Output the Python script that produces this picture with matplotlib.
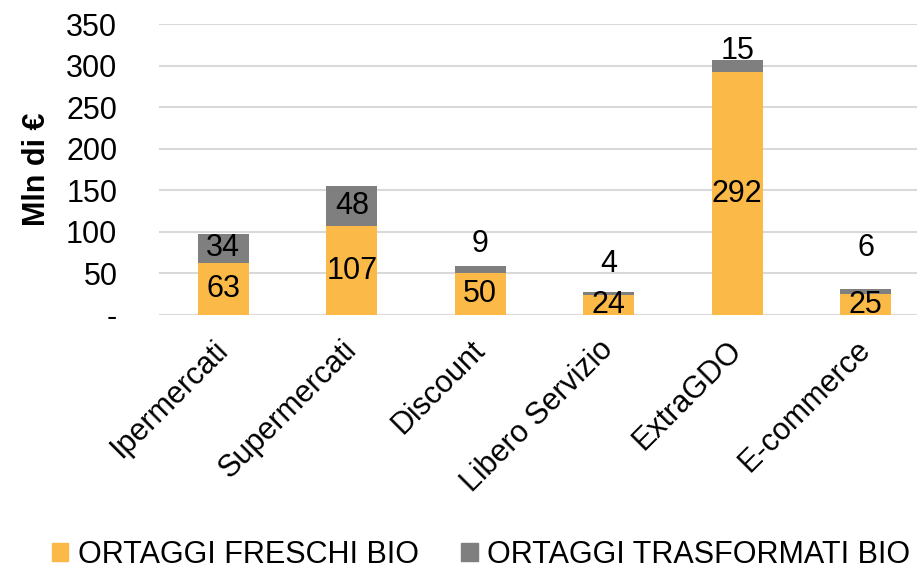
import matplotlib
matplotlib.use("Agg")
import matplotlib.pyplot as plt
from matplotlib.patches import Patch

categories = ["Ipermercati", "Supermercati", "Discount", "Libero Servizio", "ExtraGDO", "E-commerce"]
freschi = [63, 107, 50, 24, 292, 25]
trasformati = [34, 48, 9, 4, 15, 6]
series_names = ["ORTAGGI FRESCHI BIO", "ORTAGGI TRASFORMATI BIO"]
yticks = [0, 50, 100, 150, 200, 250, 300, 350]
ytick_labels = ["-", "50", "100", "150", "200", "250", "300", "350"]

# label offsets (points) for gray labels placed above small segments
gray_offsets = [None, None, 16, 20, 6, 30]

c_orange = "#FBBA48"
c_gray = "#7F7F7F"
FS = 22
plt.rcParams['font.family'] = ['Liberation Sans', 'DejaVu Sans']

fig = plt.figure(figsize=(9.17, 5.77), dpi=100)
# plot area extends slightly beyond the right edge like the reference
ax = fig.add_axes([159/917, 1 - 315/577, (930 - 159)/917, (315 - 24)/577])
x = list(range(len(categories)))
w = 0.4
ax.bar(x, freschi, width=w, color=c_orange, zorder=3)
ax.bar(x, trasformati, width=w, bottom=freschi, color=c_gray, zorder=3)

ax.set_xlim(-0.5, len(categories) - 0.5)
ax.set_ylim(0, 350)
ax.set_yticks(yticks)
ax.set_yticklabels(ytick_labels, fontsize=FS)
ax.yaxis.grid(True, color="#D9D9D9", linewidth=1.5, zorder=0)
ax.set_axisbelow(True)
for s in ax.spines.values():
    s.set_visible(False)
ax.tick_params(axis='y', length=0, pad=30)
ax.tick_params(axis='x', length=0, pad=22)
ax.set_xticks(x)
ax.set_xticklabels(categories, rotation=45, ha='right', va='center', rotation_mode='anchor', fontsize=FS)
ax.set_ylabel("Mln di €", fontsize=FS, fontweight='bold', labelpad=10)

for i, (f, t) in enumerate(zip(freschi, trasformati)):
    ax.text(i, f / 2, str(f), ha='center', va='center', fontsize=FS, zorder=4)
    off = gray_offsets[i]
    if off is None:
        ax.text(i, f + t / 2, str(t), ha='center', va='center', fontsize=FS, zorder=4)
    else:
        ax.annotate(str(t), (i, f + t), xytext=(0, off), textcoords='offset points',
                    ha='center', va='center', fontsize=FS, zorder=4)

handles = [Patch(color=c_orange), Patch(color=c_gray)]
fig.legend(handles, series_names, loc='center', bbox_to_anchor=(481/917, 1 - 555/577),
           ncol=2, frameon=False, fontsize=FS, handlelength=0.55, handleheight=0.55,
           handletextpad=0.3, columnspacing=1.4, borderpad=0, borderaxespad=0)

fig.savefig("out.png", dpi=100)
